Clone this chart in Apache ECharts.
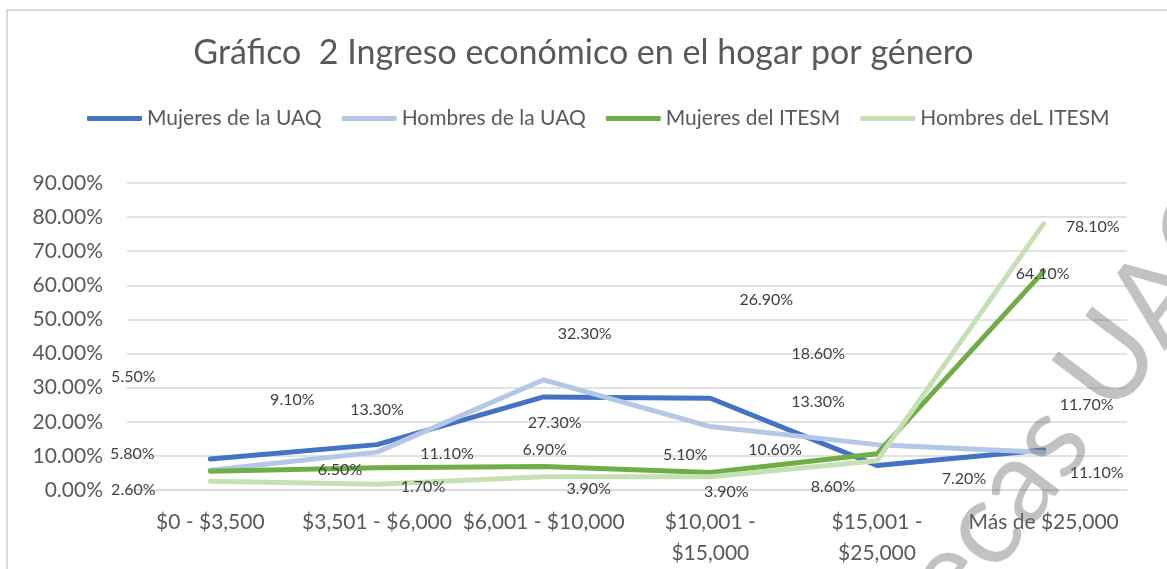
<!DOCTYPE html>
<html>
<head>
<meta charset="utf-8">
<script src="https://cdn.jsdelivr.net/npm/echarts@6/dist/echarts.min.js"></script>
<style>
  html, body { margin: 0; padding: 0; background: #fff; }
  #main { width: 1167px; height: 569px; }
</style>
</head>
<body>
<div id="main"></div>
<script>
// categories (income ranges)
var categories = ['$0 - $3,500', '$3,501 - $6,000', '$6,001 - $10,000', '$10,001 - $15,000', '$15,001 - $25,000', 'Más de $25,000'];

// series values, in percent
var mujeresUAQ = [9.1, 13.3, 27.3, 26.9, 7.2, 11.7];
var hombresUAQ = [5.8, 11.1, 32.3, 18.6, 13.3, 11.1];
var mujeresITESM = [5.5, 6.5, 6.9, 5.1, 10.6, 64.1];
var hombresITESM = [2.6, 1.7, 3.9, 3.9, 8.6, 78.1];

// y axis ticks
var yMin = 0, yMax = 90, yStep = 10;

// label shifts (px) so the value labels land where the original put them
var shiftMujUAQ = [[82, -59], [0, -35], [11, 26], [56, -98], [87, 13], [43, -45]];
var shiftHomUAQ = [[-78, -16], [70, 2], [41, -46], [108, -73], [-59, -43], [53, 21]];
var shiftMujITESM = [[-77, -94], [-37, 2], [1, -17], [-25, -18], [-102, -4], [-1, 2]];
var shiftHomITESM = [[-77, 9], [46, 3], [45, 12], [16, 15], [-44, 26], [49, 3]];

var font = 'Lato, "Open Sans", sans-serif';

function makeSeries(name, values, shifts, color) {
  return {
    name: name,
    type: 'line',
    symbol: 'circle',
    symbolSize: 1,
    showSymbol: true,
    itemStyle: { color: color },
    lineStyle: { width: 5, color: color, cap: 'round', join: 'round' },
    emphasis: { disabled: true },
    data: values.map(function (v, i) {
      return {
        value: v,
        label: { offset: shifts[i] }
      };
    }),
    label: {
      show: true,
      position: 'inside',
      color: '#404040',
      fontFamily: font,
      fontSize: 16,
      formatter: function (p) { return p.value.toFixed(2) + '%'; }
    }
  };
}

var myChart = echarts.init(document.getElementById('main'));
var option = {
  animation: false,
  backgroundColor: '#fff',
  title: {
    text: 'Gráfico  2 Ingreso económico en el hogar por género',
    left: 'center',
    top: 31,
    textStyle: { fontFamily: font, fontWeight: 'normal', fontSize: 34, color: '#595959' }
  },
  legend: {
    top: 103,
    left: 82,
    itemWidth: 55,
    itemHeight: 5,
    itemGap: 20,
    icon: 'roundRect',
    textStyle: { fontFamily: font, fontSize: 21, color: '#595959' },
    data: ['Mujeres de la UAQ', 'Hombres de la UAQ', 'Mujeres del ITESM', 'Hombres deL ITESM']
  },
  grid: { left: 127, right: 40, top: 183, bottom: 76, containLabel: false },
  xAxis: {
    type: 'category',
    data: categories,
    axisTick: { show: false },
    axisLine: { lineStyle: { color: '#d9d9d9', width: 1.5 } },
    axisLabel: {
      interval: 0,
      margin: 17,
      fontFamily: font,
      fontSize: 21,
      lineHeight: 31,
      color: '#595959',
      formatter: function (v) { return v.length > 16 ? v.replace(' - ', ' -\n') : v; }
    }
  },
  yAxis: {
    type: 'value',
    min: yMin,
    max: yMax,
    interval: yStep,
    axisLine: { show: false },
    axisTick: { show: false },
    splitLine: { lineStyle: { color: '#d9d9d9', width: 1.5 } },
    axisLabel: {
      margin: 24,
      fontFamily: font,
      fontSize: 21,
      color: '#595959',
      formatter: function (v) { return v.toFixed(2) + '%'; }
    }
  },
  series: [
    makeSeries('Mujeres de la UAQ', mujeresUAQ, shiftMujUAQ, '#4472c4'),
    makeSeries('Hombres de la UAQ', hombresUAQ, shiftHomUAQ, '#b4c7e7'),
    makeSeries('Mujeres del ITESM', mujeresITESM, shiftMujITESM, '#70ad47'),
    makeSeries('Hombres deL ITESM', hombresITESM, shiftHomITESM, '#c5e0b4')
  ],
  graphic: [
    {
      type: 'polyline',
      silent: true,
      shape: { points: [[7, 569], [7, 10], [1167, 10]] },
      style: { stroke: '#d9d9d9', lineWidth: 2, fill: null }
    },
    {
      type: 'text',
      silent: true,
      z: 100,
      x: 982,
      y: 530,
      rotation: 53 * Math.PI / 180,
      style: {
        text: 'Bibliotecas UAQ',
        fontFamily: font,
        fontSize: 118,
        fill: 'rgba(110,110,110,0.42)',
        align: 'center',
        verticalAlign: 'middle'
      }
    }
  ]
};
myChart.setOption(option);
</script>
</body>
</html>
